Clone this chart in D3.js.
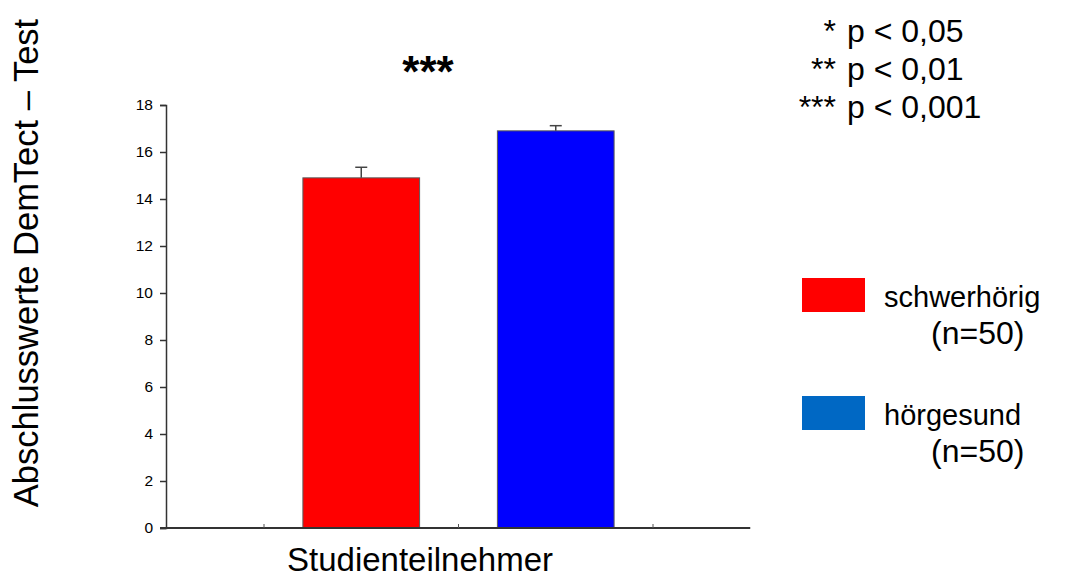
<!DOCTYPE html>
<html><head><meta charset="utf-8">
<script src="https://cdn.jsdelivr.net/npm/d3@7"></script>
<style>body{margin:0;background:#fff}svg{display:block}text{font-family:"Liberation Sans",Arial,sans-serif;fill:#000}</style>
</head><body>
<svg id="c" width="1068" height="579"></svg>
<script>
const groups = ["schwerhörig", "hörgesund"];
const means = [14.9, 16.9];
const errors = [0.45, 0.22];
const barColors = ["#FF0000", "#0000FF"];
const legendLabels = ["schwerhörig", "(n=50)", "hörgesund", "(n=50)"];
const legendColors = ["#FF0000", "#0068C4"];
const yTicks = [0, 2, 4, 6, 8, 10, 12, 14, 16, 18];
const sigStars = ["*", "**", "***"];
const sigTexts = ["p < 0,05", "p < 0,01", "p < 0,001"];
const title = "***";
const yLabel = "Abschlusswerte DemTect – Test";
const xLabel = "Studienteilnehmer";

const svg = d3.select("#c");
const y = d3.scaleLinear().domain([0, 18]).range([528, 105]);
const x = d3.scaleBand().domain(groups).range([264, 653]).paddingInner(0.4).paddingOuter(0.2);
const step = x.step();
const axLeft = 166, axRight = 653 + step / 2;

// y axis
const ya = svg.append("g").attr("transform", `translate(${axLeft},0)`)
  .call(d3.axisLeft(y).tickValues(yTicks).tickSize(6).tickPadding(7));
ya.select(".domain").attr("stroke", "#333").attr("stroke-width", 1.5);
ya.selectAll(".tick line").attr("stroke", "#333").attr("stroke-width", 1.5);
ya.selectAll(".tick text").style("font-size", "15.5px").attr("fill", "#000")
  .style("font-family", '"Liberation Sans",Arial,sans-serif');

// bars
svg.selectAll("rect.bar").data(groups).enter().append("rect")
  .attr("class", "bar")
  .attr("x", d => x(d)).attr("width", x.bandwidth())
  .attr("y", (d, i) => y(means[i])).attr("height", (d, i) => y(0) - y(means[i]))
  .attr("fill", (d, i) => barColors[i]).attr("stroke", "#5a5a5a").attr("stroke-width", 1);

// error bars
groups.forEach((g, i) => {
  const cx = x(g) + x.bandwidth() / 2;
  svg.append("line").attr("x1", cx).attr("x2", cx)
    .attr("y1", y(means[i])).attr("y2", y(means[i] + errors[i]))
    .attr("stroke", "#444").attr("stroke-width", 1.5);
  svg.append("line").attr("x1", cx - 6).attr("x2", cx + 6)
    .attr("y1", y(means[i] + errors[i])).attr("y2", y(means[i] + errors[i]))
    .attr("stroke", "#444").attr("stroke-width", 1.5);
});

// x axis line & ticks
svg.append("line").attr("x1", axLeft - 6).attr("x2", axRight)
  .attr("y1", y(0)).attr("y2", y(0)).attr("stroke", "#333").attr("stroke-width", 2);
[0, 1, 2].forEach(i => {
  const tx = x.range()[0] + i * step;
  svg.append("line").attr("x1", tx).attr("x2", tx).attr("y1", y(0)).attr("y2", y(0) - 4)
    .attr("stroke", "#555").attr("stroke-width", 1);
});

// title stars
svg.append("text").attr("x", 428).attr("y", 87).attr("text-anchor", "middle")
  .style("font-size", "44px").style("font-weight", "bold").text(title);

// axis labels
svg.append("text").attr("transform", "translate(38,263) rotate(-90)")
  .attr("text-anchor", "middle").style("font-size", "34.5px").text(yLabel);
svg.append("text").attr("x", 420).attr("y", 571).attr("text-anchor", "middle")
  .style("font-size", "33px").text(xLabel);

// significance legend
sigStars.forEach((s, i) => {
  const by = 42 + i * 38;
  svg.append("text").attr("x", 836).attr("y", by).attr("text-anchor", "end")
    .style("font-size", "32px").text(s);
  svg.append("text").attr("x", 847).attr("y", by).style("font-size", "32px").text(sigTexts[i]);
});

// group legend
legendColors.forEach((c, i) => {
  const top = 278 + i * 118;
  svg.append("rect").attr("x", 802).attr("y", top).attr("width", 63).attr("height", 34).attr("fill", c);
  svg.append("text").attr("x", 884).attr("y", top + 29).style("font-size", "29px").text(legendLabels[i * 2]);
  svg.append("text").attr("x", 931).attr("y", top + 66).style("font-size", "32px").text(legendLabels[i * 2 + 1]);
});
</script>
</body></html>
